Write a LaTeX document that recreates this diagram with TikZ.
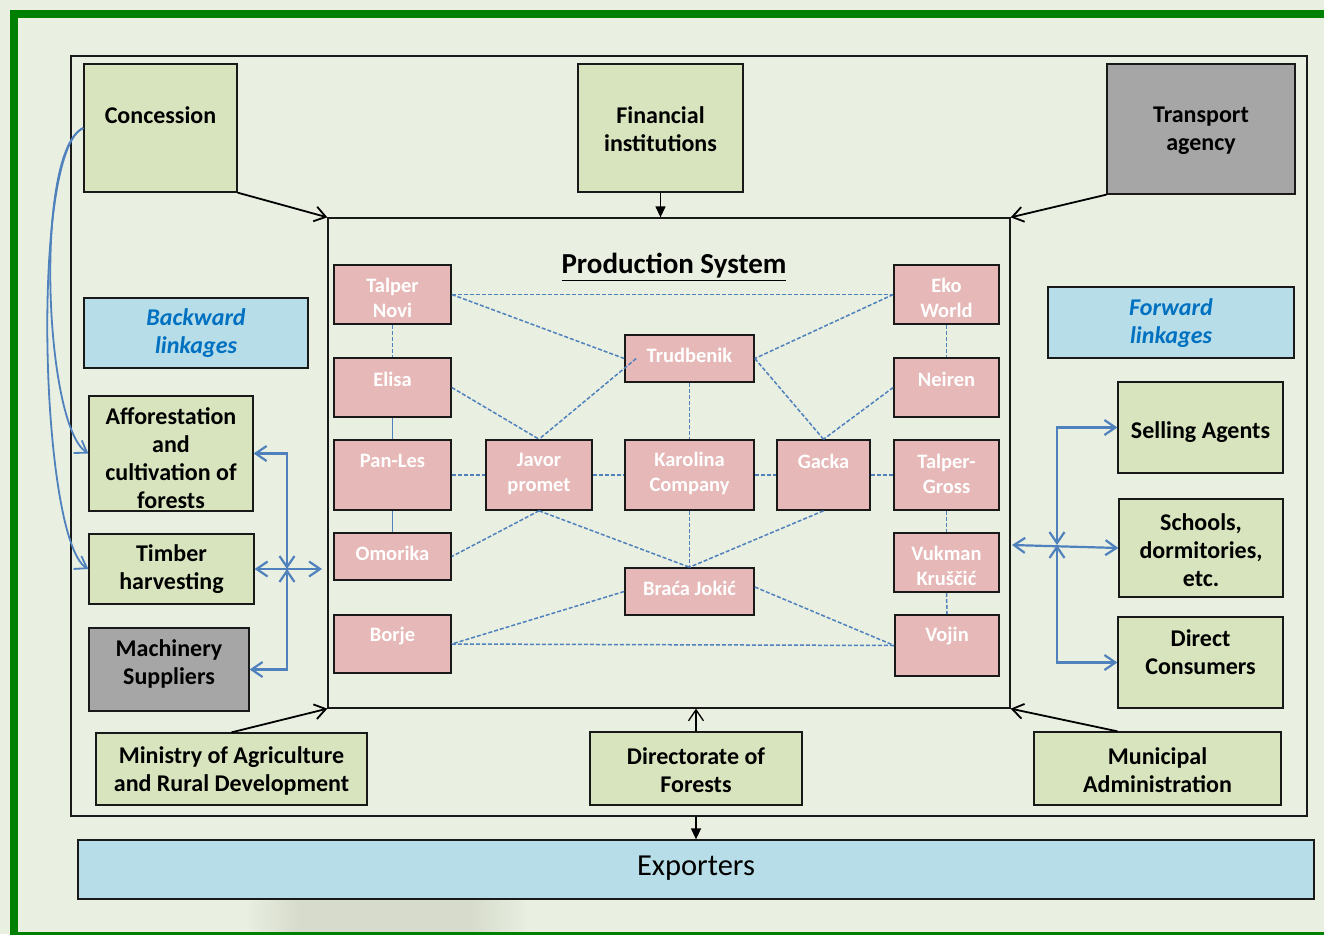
\documentclass[tikz,border=0pt]{standalone}
\usepackage{fontspec}
\setmainfont{Carlito}
\usetikzlibrary{arrows.meta}

\definecolor{bg}{RGB}{233,239,225}
\definecolor{framegreen}{RGB}{0,128,0}
\definecolor{leaf}{RGB}{215,228,189}
\definecolor{stone}{RGB}{166,166,166}
\definecolor{rose}{RGB}{230,184,183}
\definecolor{sky}{RGB}{183,222,232}
\definecolor{link}{RGB}{79,129,189}
\definecolor{linktext}{RGB}{0,112,192}
\definecolor{smudge}{RGB}{214,219,203}

% box by corners (x1,y1)-(x2,y2), label centred at height #7
\newcommand{\bx}[8]{%
  \node[#2box, minimum width={#5-#3}, minimum height={#6-#4}] (#1) at ({(#3+#5)/2},{(#4+#6)/2}) {};
  \node[#2txt] (#1-t) at ({(#3+#5)/2},#7) {#8};}

\tikzset{
  edge/.style={draw=black!90, line width=1.3pt, inner sep=0pt},
  gbox/.style={edge, fill=leaf},
  sbox/.style={edge, fill=stone},
  pbox/.style={edge, fill=rose, line width=1.6pt},
  lbox/.style={edge, fill=sky},
  ebox/.style={edge, fill=sky},
  gtxt/.style={inner sep=0pt, align=center, font=\fontsize{24}{28}\selectfont\bfseries},
  stxt/.style={gtxt},
  ptxt/.style={inner sep=0pt, align=center, text=white, font=\fontsize{20.5}{25}\selectfont\bfseries},
  ltxt/.style={inner sep=0pt, align=center, text=linktext, font=\fontsize{24}{28}\selectfont\bfseries\itshape},
  etxt/.style={inner sep=0pt, font=\fontsize{30.5}{34}\selectfont},
  barb/.tip={Straight Barb[length=11pt,width=15pt]},
  arr/.style={draw=black, line width=1.8pt, -barb},
  farr/.style={draw=black, line width=1.3pt, -{Triangle[length=11pt,width=10pt]}},
  dl/.style={draw=link, line width=1.5pt, dash pattern=on 4pt off 2pt},
  sl/.style={draw=link, line width=1.6pt},
  bl/.style={draw=link, line width=2.2pt},
  both/.style={bl, barb-barb},
  one/.style={bl, -barb},
}

\begin{document}
\begin{tikzpicture}[x=1pt,y=-1pt]
\useasboundingbox (0,0) rectangle (1324,934);
\clip (0,0) rectangle (1324,934);

% page ground, soft smudge and green frame
\fill[bg] (0,0) rectangle (1324,934);
\shade[left color=bg, right color=smudge] (245,900) rectangle (300,934);
\fill[smudge] (299,900) rectangle (470,934);
\shade[left color=smudge, right color=bg] (469,900) rectangle (530,934);
\draw[framegreen, line width=8pt] (14,14) rectangle (1340,936);

% surrounding frame of the sector
\node[edge, minimum width=1236, minimum height=760] (outer) at (689,436) {};

% outer actors
\bx{conc}{g}{84}{64}{237}{192}{115}{Concession}
\bx{fin}{g}{578}{64}{743}{192}{129.5}{Financial\\institutions}
\bx{trans}{s}{1107}{64}{1295}{194}{130.5}{Transport\\agency}
\bx{back}{l}{84}{298}{308}{368}{333}{Backward\\linkages}
\bx{fwd}{l}{1048}{287}{1294}{358}{323}{Forward\\linkages}
\bx{aff}{g}{89}{396}{253}{511}{458}{Afforestation\\and\\cultivation of\\forests}
\bx{timber}{g}{89}{534}{254}{604}{569.5}{Timber\\harvesting}
\bx{mach}{s}{89}{628}{249}{711}{664}{Machinery\\Suppliers}
\bx{sell}{g}{1118}{382}{1283}{473}{431.7}{Selling Agents}
\bx{school}{g}{1119}{499}{1283}{597}{549.7}{Schools,\\dormitories,\\etc.}
\bx{direct}{g}{1118}{617}{1283}{708}{651.7}{Direct\\Consumers}
\bx{min}{g}{96}{733}{367}{805}{771.3}{Ministry of Agriculture\\and Rural Development}
\bx{dir}{g}{590}{732}{802}{805}{770.5}{Directorate of\\Forests}
\bx{mun}{g}{1034}{732}{1281}{805}{770.5}{Municipal\\Administration}
\bx{exp}{e}{78}{840}{1314}{899}{868.3}{Exporters}

% production system
\node[edge, minimum width=682, minimum height=490] (ps) at (669,463) {};
\node[inner sep=0pt, font=\fontsize{29}{32}\selectfont\bfseries] (pstitle) at (674,267) {\underline{Production System}};

\bx{tn}{p}{334}{265}{451}{324}{298.3}{Talper\\Novi}
\bx{elisa}{p}{334}{358}{451}{417}{379}{Elisa}
\bx{panles}{p}{334}{440}{451}{510}{461}{Pan-Les}
\bx{omorika}{p}{334}{533}{451}{580}{553}{Omorika}
\bx{borje}{p}{334}{615}{451}{673}{635.7}{Borje}
\bx{javor}{p}{486}{440}{592}{510}{473.5}{Javor\\promet}
\bx{karolina}{p}{625}{440}{754}{510}{473.5}{Karolina\\Company}
\bx{gacka}{p}{777}{440}{870}{510}{461}{Gacka}
\bx{tg}{p}{894}{440}{999}{510}{473.5}{Talper-\\Gross}
\bx{trud}{p}{625}{335}{754}{382}{355.7}{Trudbenik}
\bx{braca}{p}{625}{568}{754}{615}{588}{Braća Jokić}
\bx{eko}{p}{894}{265}{999}{324}{298.3}{Eko\\World}
\bx{neiren}{p}{894}{358}{999}{417}{379}{Neiren}
\bx{vuk}{p}{894}{533}{999}{592}{565.8}{Vukman\\Kruščić}
\bx{vojin}{p}{895}{615}{999}{676}{635.7}{Vojin}

% ties between firms
\draw[dl] (tn.east) -- (eko.west);
\draw[dl] (tn.east) -- (trud.west);
\draw[dl] (eko.west) -- (trud.east);
\draw[dl] (tn.south) -- (elisa.north);
\draw[dl] (eko.south) -- (neiren.north);
\draw[dl] (elisa.east) -- (javor.north);
\draw[dl] ([xshift=12pt]trud.west) -- (javor.north);
\draw[dl] (trud.south) -- (karolina.north);
\draw[dl] (trud.east) -- (gacka.north);
\draw[dl] (neiren.west) -- (gacka.north);
\draw[sl] (elisa.south) -- (panles.north);
\draw[sl] (panles.south) -- (omorika.north);
\draw[dl] (panles.east) -- (javor.west);
\draw[dl] (javor.east) -- (karolina.west);
\draw[dl] (karolina.east) -- (gacka.west);
\draw[dl] (gacka.east) -- (tg.west);
\draw[dl] (tg.south) -- (vuk.north);
\draw[dl] (vuk.south) -- (vojin.north);
\draw[dl] (javor.south) -- (omorika.east);
\draw[dl] (javor.south) -- (braca.north);
\draw[dl] (karolina.south) -- (braca.north);
\draw[dl] (gacka.south) -- (braca.north);
\draw[dl] (braca.west) -- (borje.east);
\draw[dl] ([yshift=4.5pt]braca.east) -- (vojin.west);
\draw[dl] (borje.east) -- (vojin.west);

% institutional flows
\draw[arr] (conc.south east) -- (ps.north west);
\draw[farr] (fin.south) -- (fin.south |- ps.north);
\draw[arr] (trans.south west) -- (ps.north east);
\draw[arr] (min.north) -- (ps.south west);
\draw[arr, line width=1.3pt] (dir.north) -- (dir.north |- ps.south);
\draw[arr] ([xshift=-40pt]mun.north) -- (ps.south east);
\draw[farr] (dir.south |- outer.south) -- (dir.south |- exp.north);

% backward linkages
\coordinate (jl) at (287,569);
\coordinate (tl) at (322,569);
\draw[both] (aff.east) -| (jl);
\draw[both] (mach.east) -| (jl);
\draw[both] (timber.east) -- (tl);
\draw[one, line width=1.8pt] (conc.west) .. controls (34,150) and (44,425) .. (aff.west);
\draw[one, line width=1.8pt] (conc.west) .. controls (30,150) and (40,540) .. (timber.west);

% forward linkages
\coordinate (jr) at (1057,545);
\coordinate (pr) at (1012,545);
\draw[both] (sell.west) -| (jr);
\draw[both] (direct.west) -| (jr);
\draw[both] (pr) -- (school.west);
\end{tikzpicture}
\end{document}
